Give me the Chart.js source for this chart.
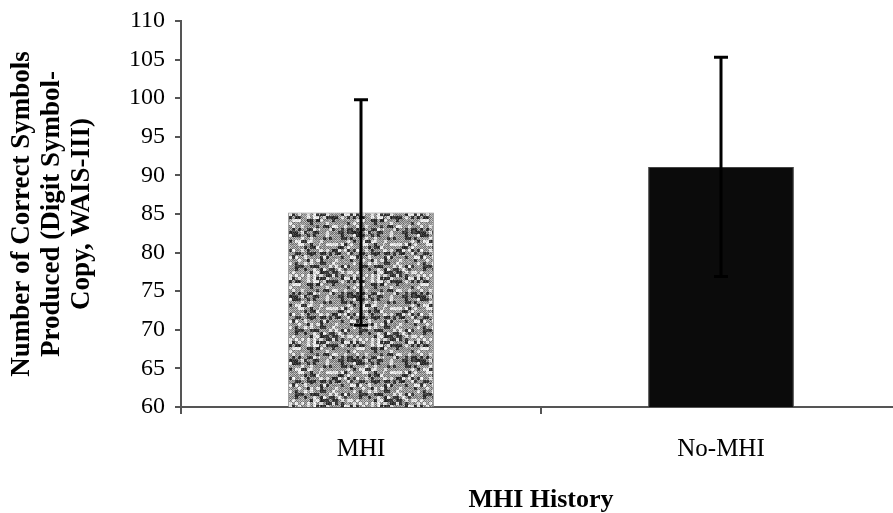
<!DOCTYPE html>
<html>
<head>
<meta charset="utf-8">
<script src="https://cdn.jsdelivr.net/npm/chart.js@4"></script>
<style>
html,body{margin:0;padding:0;background:#fff;overflow:hidden;width:893px;height:513px;}
canvas{display:block;}
</style>
</head>
<body>
<canvas id="c" width="905" height="513"></canvas>
<script>
const categories = ["MHI", "No-MHI"];
const means = [85.2, 91.1];
const sds = [14.6, 14.2];
const yTicks = [60, 65, 70, 75, 80, 85, 90, 95, 100, 105, 110];
const yTitle = ["Number of Correct Symbols", "Produced (Digit Symbol-", "Copy, WAIS-III)"];
const xTitle = "MHI History";

function makeNoisePattern() {
  const s = 64, c = document.createElement('canvas');
  c.width = s; c.height = s;
  const ctx = c.getContext('2d');
  const img = ctx.createImageData(s, s);
  function h(i, j) { const n = Math.sin(i * 12.9898 + j * 78.233) * 43758.5453; return n - Math.floor(n); }
  for (let y = 0; y < s; y++) {
    for (let x = 0; x < s; x++) {
      const bx = Math.floor(x / 3), by = Math.floor(y / 3);
      const blob = h(bx, by);
      const fine = h(x + 101, y + 57);
      let v;
      if (blob < 0.25) v = 25 + fine * 60;
      else if (blob > 0.82) v = 200 + fine * 55;
      else v = ((x + y) % 2 === 0) ? 95 + fine * 50 : 150 + fine * 60;
      const k = (y * s + x) * 4;
      img.data[k] = img.data[k + 1] = img.data[k + 2] = v;
      img.data[k + 3] = 255;
    }
  }
  ctx.putImageData(img, 0, 0);
  return c;
}

const ctx = document.getElementById('c').getContext('2d');
const pattern = ctx.createPattern(makeNoisePattern(), 'repeat');

const errorBars = {
  id: 'errorBars',
  afterDatasetsDraw(chart) {
    const meta = chart.getDatasetMeta(0);
    const ys = chart.scales.y;
    const c = chart.ctx;
    c.save();
    c.strokeStyle = '#000';
    c.lineWidth = 3;
    meta.data.forEach((bar, i) => {
      const x = Math.round(bar.x);
      const top = ys.getPixelForValue(means[i] + sds[i]);
      const bot = ys.getPixelForValue(means[i] - sds[i]);
      c.beginPath();
      c.moveTo(x, top); c.lineTo(x, bot);
      c.moveTo(x - 7, top); c.lineTo(x + 7, top);
      c.moveTo(x - 7, bot); c.lineTo(x + 7, bot);
      c.stroke();
    });
    c.restore();
  }
};

new Chart(ctx, {
  type: 'bar',
  data: {
    labels: categories,
    datasets: [{
      data: means,
      backgroundColor: [pattern, '#0b0b0b'],
      borderColor: ['#8a8a8a', '#444'],
      borderWidth: 1,
      categoryPercentage: 1,
      barPercentage: 0.405
    }]
  },
  options: {
    responsive: false,
    animation: false,
    devicePixelRatio: 1,
    layout: { padding: { top: 21, right: 4, left: 7, bottom: 0 } },
    plugins: { legend: { display: false }, tooltip: { enabled: false } },
    scales: {
      y: {
        min: 60, max: 110,
        afterBuildTicks: (s) => { s.ticks = yTicks.map(v => ({ value: v })); },
        afterFit: (s) => { s.width = 174; s.paddingTop = 0; s.paddingBottom = 0; },
        border: { display: true, color: '#555', width: 2 },
        grid: { display: true, drawOnChartArea: false, drawTicks: true, tickLength: 6, color: '#555', lineWidth: 2 },
        ticks: { color: '#000', padding: 10, font: { family: 'Liberation Serif', size: 24, lineHeight: 0.6 } },
        title: {
          display: true, text: yTitle, color: '#000',
          font: { family: 'Liberation Serif', size: 27, weight: 'bold', lineHeight: 1.11 },
          padding: { top: 0, bottom: 0 }
        }
      },
      x: {
        afterFit: (s) => { s.height = 106; },
        border: { display: true, color: '#555', width: 2 },
        grid: { display: true, offset: true, drawOnChartArea: false, drawTicks: true, tickLength: 7, color: '#555', lineWidth: 2 },
        ticks: { color: '#000', padding: 20, font: { family: 'Liberation Serif', size: 25 } },
        title: {
          display: true, text: xTitle, color: '#000',
          font: { family: 'Liberation Serif', size: 26, weight: 'bold', lineHeight: 1.0 },
          padding: { top: 0, bottom: 0 }
        }
      }
    }
  },
  plugins: [errorBars]
});
</script>
</body>
</html>
